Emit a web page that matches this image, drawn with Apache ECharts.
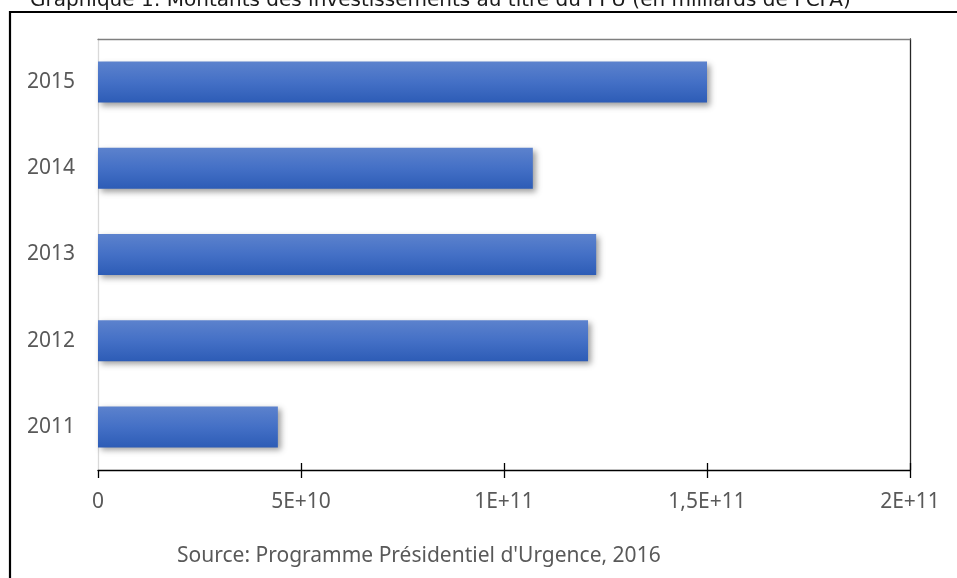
<!DOCTYPE html>
<html>
<head>
<meta charset="utf-8">
<script src="https://cdn.jsdelivr.net/npm/echarts@6/dist/echarts.min.js"></script>
<style>
  html, body { margin: 0; padding: 0; background: #ffffff; }
  #chart { width: 957px; height: 578px; }
</style>
</head>
<body>
<div id="chart"></div>
<script>
// Years shown on the vertical axis (bottom to top)
const years = ['2011', '2012', '2013', '2014', '2015'];
// Investment amounts in FCFA
const amounts = [4.43e10, 1.207e11, 1.227e11, 1.071e11, 1.5e11];
// Horizontal axis tick labels, French decimal notation
const tickLabels = ['0', '5E+10', '1E+11', '1,5E+11', '2E+11'];
const tickStep = 5e10;
const axisMax = 2e11;

const titleText = 'Graphique 1: Montants des investissements au titre du PPU (en milliards de FCFA)';
const sourceText = "Source: Programme Présidentiel d'Urgence, 2016";

const labelFont = '"Noto Sans", "Open Sans", sans-serif';

const chart = echarts.init(document.getElementById('chart'), null, { renderer: 'canvas' });

chart.setOption({
  animation: false,
  backgroundColor: '#ffffff',
  grid: { left: 98, right: 47, top: 39, bottom: 108, containLabel: false },
  xAxis: [
    {
      type: 'value',
      min: 0,
      max: axisMax,
      interval: tickStep,
      position: 'bottom',
      axisLine: { show: true, onZero: false, lineStyle: { color: '#000000', width: 1.3 } },
      axisTick: { show: true, length: 8, lineStyle: { color: '#000000', width: 1.3 } },
      splitLine: { show: false },
      axisLabel: {
        margin: 22,
        color: '#595959',
        fontSize: 21,
        fontFamily: labelFont,
        formatter: function (v) { return tickLabels[Math.round(v / tickStep)]; }
      }
    },
    {
      // upper half of the crossing ticks on the bottom axis
      type: 'value',
      min: 0,
      max: axisMax,
      interval: tickStep,
      position: 'bottom',
      axisLine: { show: false, onZero: false },
      axisTick: {
        show: true,
        inside: true,
        length: 7,
        customValues: [5e10, 1e11, 1.5e11, 2e11],
        lineStyle: { color: '#000000', width: 1.3 }
      },
      axisLabel: { show: false },
      splitLine: { show: false }
    },
    {
      // top frame line of the plot area
      type: 'value',
      min: 0,
      max: axisMax,
      position: 'top',
      axisLine: { show: true, onZero: false, lineStyle: { color: '#7f7f7f', width: 1.3 } },
      axisTick: { show: false },
      axisLabel: { show: false },
      splitLine: { show: false }
    }
  ],
  yAxis: [
    {
      type: 'category',
      data: years,
      position: 'left',
      axisLine: { show: true, onZero: false, lineStyle: { color: '#d9d9d9', width: 1.3 } },
      axisTick: { show: false },
      axisLabel: {
        margin: 23,
        color: '#595959',
        fontSize: 21,
        fontFamily: labelFont
      }
    },
    {
      // right frame line of the plot area
      type: 'category',
      data: years,
      position: 'right',
      axisLine: { show: true, onZero: false, lineStyle: { color: '#262626', width: 1.3 } },
      axisTick: { show: false },
      axisLabel: { show: false }
    }
  ],
  series: [
    {
      type: 'bar',
      xAxisIndex: 0,
      yAxisIndex: 0,
      data: amounts,
      barWidth: 41,
      itemStyle: {
        color: new echarts.graphic.LinearGradient(0, 0, 0, 1, [
          { offset: 0, color: '#5c82cd' },
          { offset: 0.5, color: '#4470c6' },
          { offset: 1, color: '#2d5cb6' }
        ]),
        shadowColor: 'rgba(0,0,0,0.38)',
        shadowBlur: 6,
        shadowOffsetX: 3,
        shadowOffsetY: 3
      }
    }
  ],
  graphic: [
    {
      type: 'rect',
      shape: { x: 10, y: 12, width: 1000, height: 700 },
      style: { fill: 'none', stroke: '#000000', lineWidth: 2.2 },
      silent: true,
      z: -1
    },
    {
      type: 'text',
      x: 30,
      y: 11,
      style: {
        text: titleText,
        fill: '#1a1a1a',
        font: '20px "DejaVu Sans", sans-serif',
        textVerticalAlign: 'bottom',
        verticalAlign: 'bottom'
      }
    },
    {
      type: 'text',
      x: 177,
      y: 556,
      style: {
        text: sourceText,
        fill: '#595959',
        font: '21px ' + labelFont,
        verticalAlign: 'middle',
        textVerticalAlign: 'middle'
      }
    }
  ]
});
</script>
</body>
</html>
